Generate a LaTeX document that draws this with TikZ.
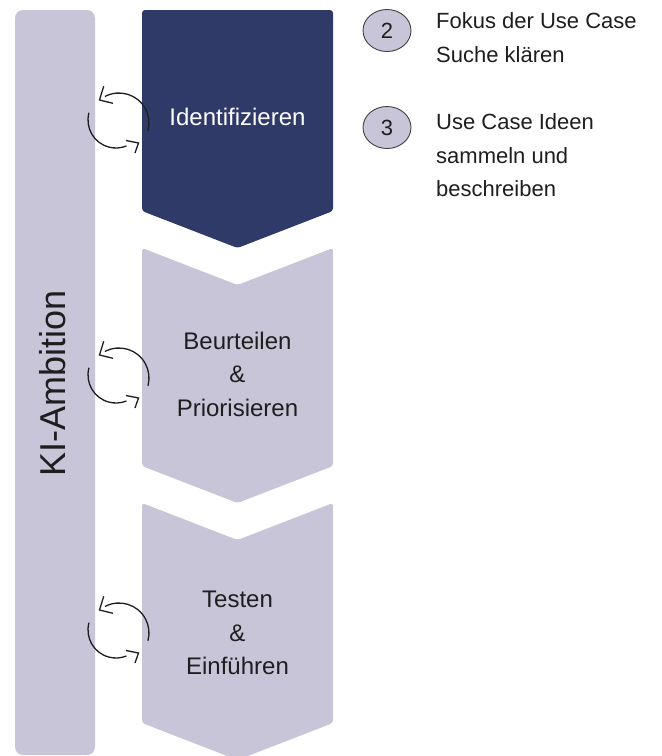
\documentclass[tikz,border=0pt]{standalone}
\usepackage{fontspec}
\setmainfont{Liberation Sans}
\definecolor{navy}{HTML}{2F3A69}
\definecolor{lilac}{HTML}{C8C5D9}
\definecolor{ink}{HTML}{1E1E1E}
\tikzset{
  phase/.style={rounded corners=3pt},
  steptext/.style={align=center, font=\fontsize{24}{33.5}\selectfont, text=ink},
  sidetext/.style={anchor=base west, font=\fontsize{22}{33.5}\selectfont, text=ink, inner sep=0pt},
  badge/.style={ellipse, draw=ink!85, line width=0.9pt, fill=lilac, minimum width=48pt, minimum height=42pt, inner sep=0pt, font=\fontsize{22}{26}\selectfont, text=ink},
  cyclearrow/.style={draw=ink, line width=1.3pt}
}
\usetikzlibrary{shapes.geometric}
\begin{document}
\begin{tikzpicture}[x=1pt,y=-1pt]
\useasboundingbox (0,0) rectangle (662,756);

% ambition bar on the left
\fill[lilac, rounded corners=8pt] (15,10) rectangle (95,755);
\node[rotate=90, font=\fontsize{36}{40}\selectfont, text=ink] (ambition) at (52.5,383) {KI-Ambition};

% the three phases
\fill[navy, phase] (142,10) -- (333,10) -- (333,211) -- (237.5,248) -- (142,211) -- cycle;
\fill[lilac, phase] (142,248) -- (237.5,285) -- (333,248) -- (333,466) -- (237.5,503) -- (142,466) -- cycle;
\fill[lilac, phase] (142,503) -- (237.5,540) -- (333,503) -- (333,723) -- (237.5,760) -- (142,723) -- cycle;

\node[steptext, text=white, anchor=base] (identify) at (237.5,125) {Identifizieren};
\node[steptext] (assess) at (237.5,374) {Beurteilen\\\&\\Priorisieren};
\node[steptext] (test) at (237.5,633) {Testen\\\&\\Einführen};

% iteration arrows next to each phase
\foreach \dy in {0,255,510} {
  \begin{scope}[shift={(0,\dy)}]
    \draw[cyclearrow] (119,123) ++(-118:30) arc[start angle=-118, end angle=15, radius=30];
    \draw[cyclearrow, line join=miter] (103.7,86.3) -- (99.5,100) -- (113,103.3);
    \draw[cyclearrow] (116,120) ++(-165:28) arc[start angle=-165, end angle=-292, radius=28];
    \draw[cyclearrow, line join=miter] (126,140.5) -- (138.5,143) -- (135,153);
  \end{scope}
}

% numbered steps
\node[badge] (n2) at (387,30.5) {2};
\node[badge] (n3) at (387,127.5) {3};
\node[sidetext] (s2a) at (436,28) {Fokus der Use Case};
\node[sidetext] (s2b) at (436,62) {Suche klären};
\node[sidetext] (s3a) at (436,129.5) {Use Case Ideen};
\node[sidetext] (s3b) at (436,163) {sammeln und};
\node[sidetext] (s3c) at (436,196.5) {beschreiben};
\end{tikzpicture}
\end{document}
